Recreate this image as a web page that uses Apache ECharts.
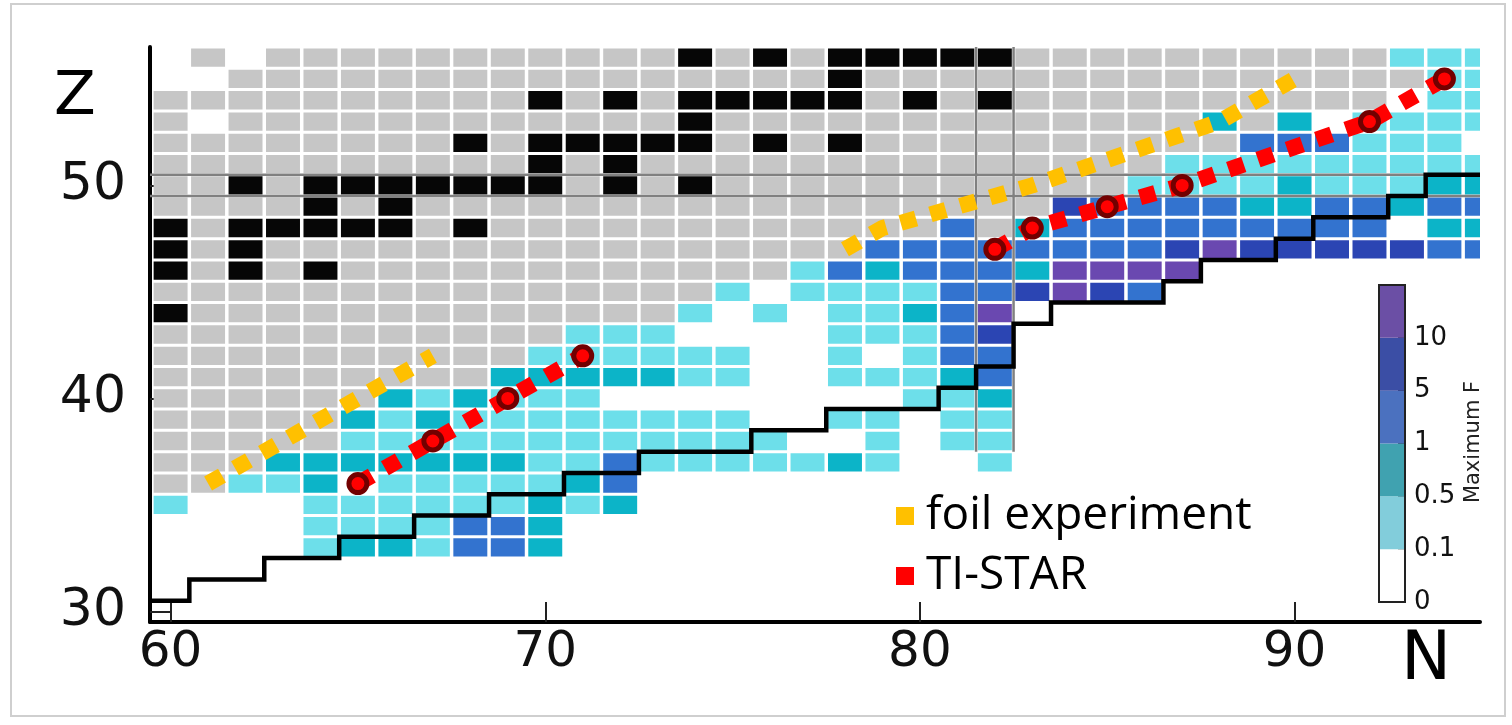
<!DOCTYPE html>
<html>
<head>
<meta charset="UTF-8">
<title>Maximum F map</title>
<script src="https://cdn.jsdelivr.net/npm/echarts@6/dist/echarts.min.js"></script>
<style>
  html, body { margin: 0; padding: 0; background: #fff; }
  #main { width: 1512px; height: 725px; }
</style>
</head>
<body>
<div id="main"></div>
<script>
// rows of the chart, top to bottom (Z)
var zRows = [56, 55, 54, 53, 52, 51, 50, 49, 48, 47, 46, 45, 44, 43, 42, 41, 40, 39, 38, 37, 36, 35, 34, 33];
// one char per N, starting at N = 60: . none, g grey, k black, 1..5 = Maximum F band
var firstN = 60;
var rowCells = [
    '.g.gg ggggg ggggk gkgkk kkkgg ggggg ggg11 1',
    '..ggg ggggg ggggg gggkg ggggg ggggg gggg1 1',
    'ggggg ggggg kgkgk kkkkg kgkgg ggggg ggg.1 1',
    'g.ggg ggggg ggggk ggggg ggggg ggg2g 2.111 1',
    'ggggg gggkg kkkkk gkgkg ggggg gggg3 33111 .',
    'ggggg ggggg kgkgg ggggg ggggg gg111 11111 1',
    'ggkgk kkkkk kgkgk ggggg ggggg g1111 21112 2',
    'ggggk gkggg ggggg ggggg gggg4 33332 23323 3',
    'kgkkk kkgkg ggggg ggggg g3g23 33333 333.2 2',
    'kgkgg ggggg ggggg gggg3 33333 33454 44443 3',
    'kgkgk ggggg ggggg gg132 33325 555.. ..... .',
    'ggggg ggggg ggggg 1.111 13345 43... ..... .',
    'kgggg ggggg gggg1 .1.11 235.. ..... ..... .',
    'ggggg ggggg g111. ...11 134.. ..... ..... .',
    'ggggg ggggg 11111 1..1. 133.. ..... ..... .',
    'ggggg gggg2 22221 1..11 123.. ..... ..... .',
    'ggggg g2121 11... ..... 112.. ..... ..... .',
    'ggggg 21211 11111 1..11 .11.. ..... ..... .',
    'ggggg 11111 11111 11..1 .11.. ..... ..... .',
    'ggg22 22222 11311 11121 ..1.. ..... ..... .',
    'gg112 .1111 123.. ..... ..... ..... ..... .',
    '1...1 11111 212.. ..... ..... ..... ..... .',
    '....1 11133 2.... ..... ..... ..... ..... .',
    '....1 22133 2.... ..... ..... ..... ..... .'
];
var cellCodes = 'g12345k';
var cellColors = ['#c6c6c6', '#6ddfea', '#0cb4c8', '#3373cf', '#2b45b3', '#6a48b0', '#060606'];

// boundary staircase
var stairN = [59.45, 60.5, 60.5, 62.5, 62.5, 64.5, 64.5, 66.5, 66.5, 68.5, 68.5, 70.5, 70.5, 72.5, 72.5, 75.5, 75.5, 77.5, 77.5, 80.5,
              80.5, 81.5, 81.5, 82.5, 82.5, 83.5, 83.5, 86.5, 86.5, 87.5, 87.5, 89.5, 89.5, 90.5, 90.5, 92.5, 92.5, 93.5, 93.5, 94.95];
var stairZ = [30.5, 30.5, 31.5, 31.5, 32.5, 32.5, 33.5, 33.5, 34.5, 34.5, 35.5, 35.5, 36.5, 36.5, 37.5, 37.5, 38.5, 38.5, 39.5, 39.5,
              40.5, 40.5, 41.5, 41.5, 43.5, 43.5, 44.5, 44.5, 45.5, 45.5, 46.5, 46.5, 47.5, 47.5, 48.5, 48.5, 49.5, 49.5, 50.5, 50.5];

// shell lines
var shellZ = [49.5, 50.5];
var shellN = [81.5, 82.5];

// TI-STAR points (two groups) and foil experiment tracks
var tiStarLowN = [65, 67, 69, 71];
var tiStarLowZ = [36, 38, 40, 42];
var tiStarHighN = [82, 83, 85, 87, 92, 94];
var tiStarHighZ = [47, 48, 49, 50, 53, 55];
var foilLowN = [61, 63, 65, 67];
var foilLowZ = [36, 38, 40, 42];
var foilHighN = [78, 79, 81, 83, 88, 90];
var foilHighZ = [47, 48, 49, 50, 53, 55];

// colour bar
var barLabels = ['0', '0.1', '0.5', '1', '5', '10', ''];
var barColors = ['#ffffff', '#82cddb', '#40a2b0', '#4b71bf', '#3b4ea5', '#6b4fa5'];

function zip(a, b) {
    return a.map(function (v, i) { return [v, b[i]]; });
}

var cellData = [];
zRows.forEach(function (z, r) {
    var s = rowCells[r].replace(/ /g, '');
    for (var i = 0; i < s.length; i++) {
        var code = cellCodes.indexOf(s[i]);
        if (code >= 0) cellData.push([firstN + i, z, code]);
    }
});

function renderCell(params, api) {
    var c = api.coord([api.value(0), api.value(1)]);
    var size = api.size([1, 1]);
    var w = size[0] - 3.5, h = size[1] - 3;
    return {
        type: 'rect',
        shape: { x: c[0] - w / 2, y: c[1] - h / 2, width: w, height: h },
        style: { fill: cellColors[api.value(2)] }
    };
}

var chart = echarts.init(document.getElementById('main'));

var lineBase = { type: 'line', symbol: 'none', silent: true, xAxisIndex: 0, yAxisIndex: 0 };
function plainLine(data, color, width, z) {
    return Object.assign({}, lineBase, {
        data: data, z: z,
        lineStyle: { color: color, width: width, join: 'miter' }
    });
}
function dotted(name, data, color, z) {
    return Object.assign({}, lineBase, {
        name: name, data: data, z: z,
        itemStyle: { color: color },
        lineStyle: { color: color, width: 16, type: [16, 15], cap: 'butt' }
    });
}

var series = [
    {
        type: 'custom', name: 'cells', xAxisIndex: 0, yAxisIndex: 0,
        renderItem: renderCell, data: cellData, clip: true, silent: true, z: 1
    },
    plainLine([[59.45, shellZ[0]], [94.95, shellZ[0]]], '#808080', 2.5, 2),
    plainLine([[59.45, shellZ[1]], [94.95, shellZ[1]]], '#808080', 2.5, 2),
    plainLine([[shellN[0], 37.5], [shellN[0], 56.5]], '#808080', 2.5, 2),
    plainLine([[shellN[1], 37.5], [shellN[1], 56.5]], '#808080', 2.5, 2),
    plainLine(zip(stairN, stairZ), '#000000', 4.5, 3),
    dotted('foil experiment', zip(foilLowN, foilLowZ), '#ffc000', 4),
    dotted('foil experiment', zip(foilHighN, foilHighZ), '#ffc000', 4),
    dotted('TI-STAR', zip(tiStarLowN, tiStarLowZ), '#ff0000', 4),
    dotted('TI-STAR', zip(tiStarHighN, tiStarHighZ), '#ff0000', 4),
    {
        type: 'scatter', name: 'TI-STAR points', xAxisIndex: 0, yAxisIndex: 0,
        data: zip(tiStarLowN, tiStarLowZ).concat(zip(tiStarHighN, tiStarHighZ)),
        symbol: 'circle', symbolSize: 18, silent: true, z: 5,
        itemStyle: { color: '#ff0000', borderColor: '#720000', borderWidth: 5, opacity: 1 }
    }
];

barColors.forEach(function (c, i) {
    series.push({
        type: 'bar', name: 'band' + i, xAxisIndex: 1, yAxisIndex: 1, stack: 'bar',
        data: [1], barWidth: 26, silent: true, itemStyle: { color: c }
    });
});

var option = {
    animation: false,
    backgroundColor: '#ffffff',
    grid: [
        { left: 150, top: 47, width: 1330, height: 575 },
        { left: 1379, top: 285, width: 26, height: 317, show: true, z: 10,
          borderColor: '#222', borderWidth: 2, backgroundColor: 'transparent' }
    ],
    xAxis: [
        {
            type: 'value', gridIndex: 0, min: 59.45, max: 94.95,
            axisLine: { lineStyle: { color: '#000', width: 4 } },
            axisTick: { inside: true, length: 20, customValues: [60, 70, 80, 90], lineStyle: { color: '#222', width: 2 } },
            axisLabel: { customValues: [60, 70, 80, 90], fontFamily: 'DejaVu Sans', fontSize: 50, color: '#111', margin: 6 },
            splitLine: { show: false }
        },
        { type: 'category', gridIndex: 1, data: ['F'], show: false }
    ],
    yAxis: [
        {
            type: 'value', gridIndex: 0, min: 29.5, max: 56.5,
            axisLine: { show: true, lineStyle: { color: '#000', width: 4 } },
            axisTick: { show: true, inside: true, length: 21, customValues: [30, 40, 50], lineStyle: { color: '#222', width: 2 } },
            axisLabel: { customValues: [30, 40, 50], fontFamily: 'DejaVu Sans', fontSize: 52, color: '#111', margin: 24 },
            splitLine: { show: false }
        },
        {
            type: 'value', gridIndex: 1, min: 0, max: 6, interval: 1, position: 'right',
            axisLine: { show: false },
            axisTick: { show: true, inside: true, length: 7, lineStyle: { color: '#222', width: 2 } },
            axisLabel: {
                fontFamily: 'DejaVu Sans', fontSize: 26, color: '#111', margin: 9,
                formatter: function (v) { return barLabels[v]; }
            },
            splitLine: { show: false }
        }
    ],
    legend: {
        data: ['foil experiment', 'TI-STAR'],
        orient: 'vertical', left: 891, top: 486, itemGap: 10,
        icon: 'rect', itemWidth: 18, itemHeight: 18,
        selectedMode: false,
        textStyle: { fontFamily: 'Open Sans', fontSize: 46, color: '#000', lineHeight: 40, padding: [0, 0, 10, 7] }
    },
    graphic: [
        {
            type: 'rect', silent: true, z: -1,
            shape: { x: 11, y: 4, width: 1494, height: 712 },
            style: { fill: 'none', stroke: '#cfcfcf', lineWidth: 2 }
        },
        { type: 'text', left: 54, top: 68, style: { text: 'Z', font: '61px "DejaVu Sans"', fill: '#000' } },
        { type: 'text', left: 1401, top: 628, style: { text: 'N', font: '67px "DejaVu Sans"', fill: '#000' } },
        {
            type: 'text', x: 1474, y: 442, rotation: Math.PI / 2,
            style: { text: 'Maximum F', font: '21px "DejaVu Sans"', fill: '#222', align: 'center', verticalAlign: 'middle' }
        }
    ],
    series: series
};

chart.setOption(option);
</script>
</body>
</html>
